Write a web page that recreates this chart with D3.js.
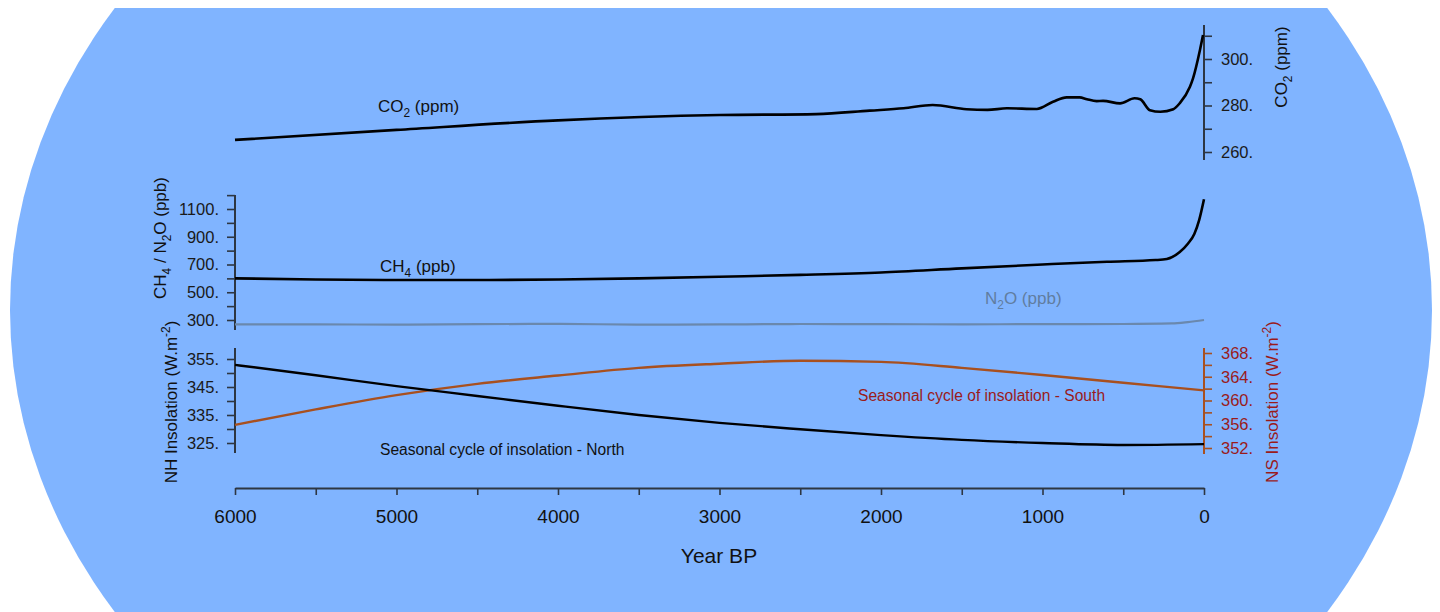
<!DOCTYPE html>
<html>
<head>
<meta charset="utf-8">
<script src="https://cdn.jsdelivr.net/npm/d3@7"></script>
<style>
  body { margin: 0; background: #fff; }
  text { font-family: "Liberation Sans", Arial, sans-serif; }
</style>
</head>
<body>
<div id="chart"></div>
<script>
// years BP and values
var co2Years = [6000, 5000, 4000, 3000, 2400, 2070, 1860, 1680, 1470, 1340, 1220, 1035, 935, 850, 770, 725, 665, 625, 520, 430, 395, 335, 270, 190, 150, 87, 68, 25, 6]
var co2Vals  = [265.2, 269.5, 273.6, 275.9, 276.3, 277.8, 278.8, 280.2, 278.4, 278.1, 278.8, 278.5, 281.6, 283.5, 283.5, 282.7, 281.9, 282.0, 280.9, 283.1, 282.7, 278.0, 277.3, 278.4, 281.0, 288.1, 291.7, 303.9, 310.3]

var ch4Years = [6000, 5500, 5000, 4500, 4000, 3500, 3000, 2500, 2000, 1500, 1000, 600, 300, 230, 150, 100, 60, 30, 0]
var ch4Vals  = [600, 592, 588, 588, 592, 600, 612, 625, 642, 672, 700, 720, 732, 740, 790, 850, 920, 1020, 1170]

var n2oYears = [6000, 5500, 5000, 4500, 4000, 3500, 3000, 2500, 2000, 1500, 1000, 500, 200, 100, 0]
var n2oVals  = [268, 268, 267, 270, 272, 267, 268, 271, 270, 269, 270, 271, 275, 285, 300]

var insYears = [6000, 5500, 5000, 4500, 4000, 3500, 3000, 2500, 2000, 1500, 1000, 500, 0]
var northVals = [352.9, 349.2, 345.3, 341.8, 338.3, 335.0, 332.2, 329.9, 327.8, 326.1, 325.0, 324.3, 324.6]
var southVals = [355.9, 358.5, 360.9, 362.8, 364.2, 365.5, 366.2, 366.7, 366.5, 365.5, 364.3, 363.0, 361.7]

var xTicks = [6000, 5000, 4000, 3000, 2000, 1000, 0]
var xMinor = [6000, 5500, 5000, 4500, 4000, 3500, 3000, 2500, 2000, 1500, 1000, 500, 0]
var co2Ticks = [260, 280, 300]
var ch4Ticks = [300, 500, 700, 900, 1100]
var nhTicks = [325, 335, 345, 355]
var nsTicks = [352, 356, 360, 364, 368]

var width = 1440
var height = 612
var axisColor = "#2d3642"
var brown = "#a8501f"
var darkRed = "#9a1b1b"
var n2oColor = "#6a88ad"

var svg = d3.select("#chart").append("svg")
    .attr("width", width)
    .attr("height", height)

// background: white page with a big blue ellipse
svg.append("defs").append("clipPath").attr("id", "clipTop")
  .append("rect").attr("x", 0).attr("y", 8).attr("width", width).attr("height", height)
svg.append("rect").attr("width", width).attr("height", height).attr("fill", "#fff")
svg.append("ellipse")
    .attr("cx", 721).attr("cy", 310).attr("rx", 711).attr("ry", 578)
    .attr("fill", "#80b4ff")
    .attr("clip-path", "url(#clipTop)")

var xScale = d3.scaleLinear().domain([6000, 0]).range([235, 1204])

var yCO2 = d3.scaleLinear().domain([260, 300]).range([152, 59])
var yCH4 = d3.scaleLinear().domain([300, 1100]).range([320, 209])
var yNH = d3.scaleLinear().domain([325, 355]).range([443, 359])
var yNS = d3.scaleLinear().domain([352, 368]).range([448, 353])

function zip(years, vals) {
  return years.map(function(y, i) { return {year: y, v: vals[i]} })
}

function drawLine(data, yScale, color, w) {
  var line = d3.line()
      .x(function(d) { return xScale(d.year) })
      .y(function(d) { return yScale(d.v) })
      .curve(d3.curveMonotoneX)
  svg.append("path")
      .datum(data)
      .attr("fill", "none")
      .attr("stroke", color)
      .attr("stroke-width", w)
      .attr("stroke-linejoin", "round")
      .attr("d", line)
}

// vertical axis with labelled ticks and unlabelled minor ticks
function drawAxis(yScale, x, yRange, ticks, minorStep, side, color, labelColor) {
  var g = svg.append("g").attr("transform", "translate(" + x + ",0)")
  var minor = d3.range(ticks[0] - minorStep * 3, ticks[ticks.length - 1] + minorStep * 3, minorStep)
      .filter(function(t) {
        var p = yScale(t)
        return p >= yRange[0] && p <= yRange[1]
      })
  var axis = side == "left" ? d3.axisLeft(yScale) : d3.axisRight(yScale)
  g.call(axis.tickValues(minor).tickSize(8)
      .tickFormat(function(t) { return ticks.indexOf(t) >= 0 ? t + "." : "" }))
  g.select(".domain").remove()
  g.append("line").attr("x1", 0).attr("x2", 0)
      .attr("y1", yRange[0]).attr("y2", yRange[1])
      .attr("stroke", color).attr("stroke-width", 2)
  g.selectAll(".tick line").attr("stroke", color).attr("stroke-width", 1.6)
  g.selectAll(".tick text")
      .attr("fill", labelColor)
      .attr("font-size", 16.5)
      .attr("font-family", "Liberation Sans, Arial, sans-serif")
      .attr("x", side == "left" ? -16 : 17)
}

drawAxis(yCO2, 1204, [25, 160], co2Ticks, 10, "right", axisColor, "#1a1a1a")
drawAxis(yCH4, 235, [195, 330], ch4Ticks, 100, "left", axisColor, "#1a1a1a")
drawAxis(yNH, 235, [348, 453], nhTicks, 5, "left", axisColor, "#1a1a1a")
drawAxis(yNS, 1204, [348, 454], nsTicks, 2, "right", brown, darkRed)

// x-axis
var gx = svg.append("g").attr("transform", "translate(0,488)")
gx.call(d3.axisBottom(xScale).tickValues(xMinor).tickSize(7).tickSizeOuter(0)
    .tickFormat(function(t) { return xTicks.indexOf(t) >= 0 ? t : "" }))
gx.select(".domain").attr("stroke", axisColor).attr("stroke-width", 1.8)
gx.selectAll(".tick line").attr("stroke", axisColor).attr("stroke-width", 1.6)
gx.selectAll(".tick text")
    .attr("font-size", 19)
    .attr("fill", "#111")
    .attr("font-family", "Liberation Sans, Arial, sans-serif")
    .attr("y", 22)

svg.append("text")
    .attr("x", 719).attr("y", 563)
    .attr("text-anchor", "middle")
    .attr("font-size", 21)
    .attr("fill", "#111")
    .text("Year BP")

// series
drawLine(zip(n2oYears, n2oVals), yCH4, n2oColor, 2.2)
drawLine(zip(ch4Years, ch4Vals), yCH4, "#000", 2.6)
drawLine(zip(co2Years, co2Vals), yCO2, "#000", 2.6)
drawLine(zip(insYears, southVals), yNS, brown, 2.4)
drawLine(zip(insYears, northVals), yNH, "#000", 2.4)

// text with sub / superscripts
function richText(x, y, parts, opts) {
  var t = svg.append("text")
      .attr("font-size", opts.size)
      .attr("fill", opts.color)
      .attr("text-anchor", opts.anchor || "start")
  if (opts.rotate) {
    t.attr("transform", "translate(" + x + "," + y + ") rotate(-90)")
  } else {
    t.attr("x", x).attr("y", y)
  }
  parts.forEach(function(p) {
    var s = t.append("tspan").text(p.t)
    if (p.sub) s.attr("font-size", opts.size * 0.7).attr("dy", opts.size * 0.3)
    if (p.sup) s.attr("font-size", opts.size * 0.7).attr("dy", -opts.size * 0.4)
    if (p.back) s.attr("dy", p.back)
  })
  return t
}

richText(378, 112, [{t: "CO"}, {t: "2", sub: true}, {t: " (ppm)", back: -5}], {size: 17, color: "#111"})
richText(380, 272, [{t: "CH"}, {t: "4", sub: true}, {t: " (ppb)", back: -5}], {size: 17, color: "#111"})
richText(985, 304, [{t: "N"}, {t: "2", sub: true}, {t: "O (ppb)", back: -5}], {size: 17, color: "#607d9f"})
richText(858, 401, [{t: "Seasonal cycle of insolation - South"}], {size: 15.6, color: darkRed})
richText(380, 455, [{t: "Seasonal cycle of insolation - North"}], {size: 15.6, color: "#111"})

richText(1287, 67, [{t: "CO"}, {t: "2", sub: true}, {t: " (ppm)", back: -5}], {size: 17, color: "#111", rotate: true, anchor: "middle"})
richText(166, 238, [{t: "CH"}, {t: "4", sub: true}, {t: " / N", back: -5}, {t: "2", sub: true}, {t: "O (ppb)", back: -5}], {size: 17, color: "#111", rotate: true, anchor: "middle"})
richText(177, 402, [{t: "NH Insolation (W.m"}, {t: "-2", sup: true}, {t: ")", back: 7}], {size: 17, color: "#111", rotate: true, anchor: "middle"})
richText(1278, 402, [{t: "NS Insolation (W.m"}, {t: "-2", sup: true}, {t: ")", back: 7}], {size: 17, color: darkRed, rotate: true, anchor: "middle"})
</script>
</body>
</html>
